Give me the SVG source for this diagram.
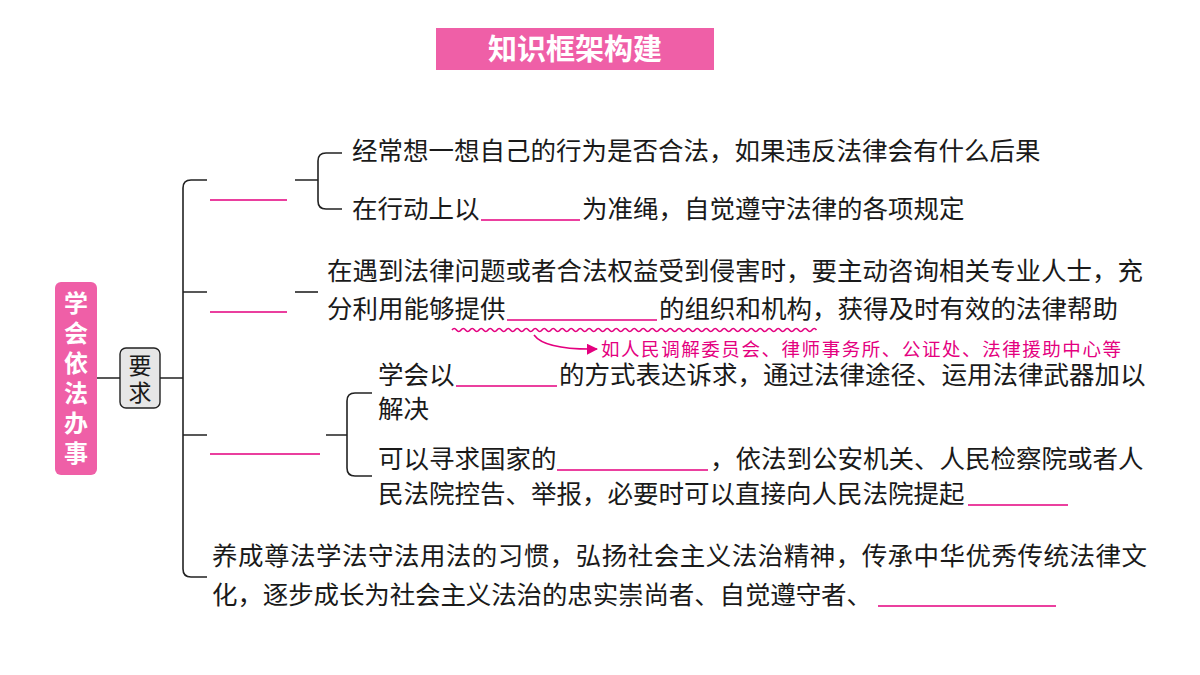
<svg xmlns="http://www.w3.org/2000/svg" width="1200" height="675" viewBox="0 0 1200 675">
<defs>
<style>
.t{font-family:"Noto Sans CJK SC","Noto Sans",sans-serif;font-size:25.5px;fill:#1a1a1a}
.ln{stroke:#222;stroke-width:1.6;fill:none}
.pk{stroke:#e4007f;stroke-width:1.6;fill:none}
</style>
<marker id="ah" viewBox="0 0 10 10" refX="9" refY="5" markerWidth="7" markerHeight="7" orient="auto"><path d="M0,0L10,5L0,10z" fill="#e4007f"/></marker>
</defs>
<rect width="1200" height="675" fill="#fff"/>
<g id="title"><rect x="436" y="28" width="278" height="42" fill="#ef5fa7"/><text x="575" y="60" text-anchor="middle" font-family="Noto Sans CJK SC,sans-serif" font-size="29" font-weight="bold" fill="#fff">知识框架构建</text></g>
<g id="root"><rect x="55" y="282" width="42" height="193" rx="6" fill="#ef5fa7"/><text font-family="Noto Sans CJK SC,sans-serif" font-size="24" font-weight="bold" fill="#fff" text-anchor="middle"><tspan x="76" y="312">学</tspan><tspan x="76" y="342">会</tspan><tspan x="76" y="372">依</tspan><tspan x="76" y="402">法</tspan><tspan x="76" y="432">办</tspan><tspan x="76" y="462">事</tspan></text></g>
<g id="req"><rect x="120" y="348" width="40" height="60" rx="6" fill="#e6e6e6" stroke="#222" stroke-width="1.4"/><text class="t" text-anchor="middle" style="font-size:23px"><tspan x="140" y="374">要</tspan><tspan x="140" y="401">求</tspan></text></g>
<g id="connectors">
<path class="ln" d="M97,378H120M160,378H183"/>
<path class="ln" d="M207,180H191Q183,180 183,188V569Q183,577 191,577H207M183,292H207M183,435H207"/>
<path class="ln" d="M295,180H318M326,153Q318,153 318,161V201Q318,209 326,209H342M326,153H342"/>
<path class="ln" d="M295,292H318"/>
<path class="ln" d="M326,435H347M355,393Q347,393 347,401V468Q347,476 355,476H372M355,393H372"/>
<path class="pk" d="M210,200H287M210,312H287M210,454H320"/>
</g>
<g id="n1"><text class="t" x="352" y="160">经常想一想自己的行为是否合法，如果违反法律会有什么后果</text></g>
<g id="n2"><text class="t" x="352" y="218">在行动上以</text><path class="pk" d="M481,220H580"/><text class="t" x="582" y="218">为准绳，自觉遵守法律的各项规定</text></g>
<g id="n3"><text class="t" x="327" y="280">在遇到法律问题或者合法权益受到侵害时，要主动咨询相关专业人士，充</text><text class="t" x="327" y="318">分利用能够提供</text><path class="pk" d="M507,320H657"/><text class="t" x="659" y="318">的组织和机构，获得及时有效的法律帮助</text>
<path class="pk" stroke-width="1.2" d="M452,330q2.25,-3 4.5,0t4.5,0t4.5,0t4.5,0t4.5,0t4.5,0t4.5,0t4.5,0t4.5,0t4.5,0t4.5,0t4.5,0t4.5,0t4.5,0t4.5,0t4.5,0t4.5,0t4.5,0t4.5,0t4.5,0t4.5,0t4.5,0t4.5,0t4.5,0t4.5,0t4.5,0t4.5,0t4.5,0t4.5,0t4.5,0t4.5,0t4.5,0t4.5,0t4.5,0t4.5,0t4.5,0t4.5,0t4.5,0t4.5,0t4.5,0t4.5,0t4.5,0t4.5,0t4.5,0t4.5,0t4.5,0t4.5,0t4.5,0t4.5,0t4.5,0t4.5,0t4.5,0t4.5,0t4.5,0t4.5,0t4.5,0t4.5,0t4.5,0t4.5,0t4.5,0t4.5,0t4.5,0t4.5,0t4.5,0t4.5,0t4.5,0t4.5,0t4.5,0t4.5,0t4.5,0t4.5,0t4.5,0t4.5,0t4.5,0t4.5,0t4.5,0t4.5,0t4.5,0t4.5,0t4.5,0t4.5,0"/>
<path class="pk" stroke-width="1.2" d="M534,335Q545,350 597,349" marker-end="url(#ah)"/>
<text x="601" y="356" font-family="Noto Sans CJK SC,sans-serif" font-size="18.5" fill="#e4007f" textLength="520" lengthAdjust="spacing">如人民调解委员会、律师事务所、公证处、法律援助中心等</text></g>
<g id="n4"><text class="t" x="378" y="384">学会以</text><path class="pk" d="M456,386H557"/><text class="t" x="559" y="384">的方式表达诉求，通过法律途径、运用法律武器加以</text><text class="t" x="378" y="418">解决</text></g>
<g id="n5"><text class="t" x="378" y="468">可以寻求国家的</text><path class="pk" d="M557,470H708"/><text class="t" x="710" y="468">，依法到公安机关、人民检察院或者人</text><text class="t" x="378" y="503">民法院控告、举报，必要时可以直接向人民法院提起</text><path class="pk" d="M968,505H1068"/></g>
<g id="n6"><text class="t" x="212" y="565" textLength="935" lengthAdjust="spacing">养成尊法学法守法用法的习惯，弘扬社会主义法治精神，传承中华优秀传统法律文</text><text class="t" x="212" y="604" textLength="660" lengthAdjust="spacing">化，逐步成长为社会主义法治的忠实崇尚者、自觉遵守者、</text><path class="pk" d="M878,606H1056"/></g>
</svg>
